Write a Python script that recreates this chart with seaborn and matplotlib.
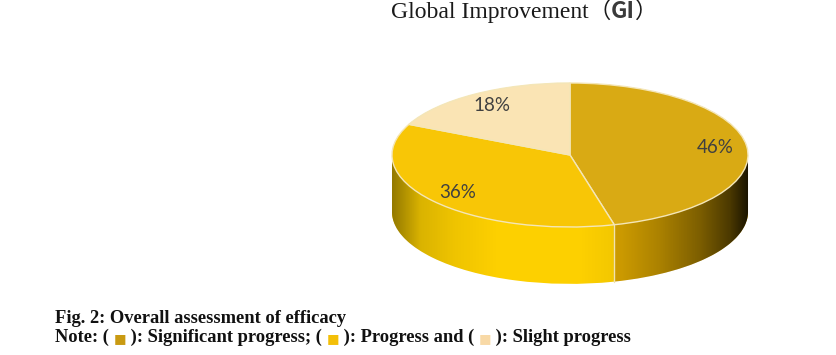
import numpy as np
import matplotlib
matplotlib.use("Agg")
import matplotlib.pyplot as plt
import seaborn as sns
from matplotlib.patches import Polygon

sns.set_theme(style="white")
plt.rcParams['font.family'] = ['Liberation Serif', 'DejaVu Sans']

# ---- data ----
labels = ["Significant progress", "Progress", "Slight progress"]
shares = [46, 36, 18]
top_colors = ["#D9AA14", "#F8C606", "#FAE4B4"]
side_colors = ["#D6A200", "#FDD000", "#E8CC90"]
key_colors = ["#C99A12", "#F3BF08", "#F8D9A6"]
title_main = "Global Improvement"
title_abbr = "GI"
caption = "Fig. 2: Overall assessment of efficacy"

W, H = 837, 355
fig = plt.figure(figsize=(W / 100, H / 100), dpi=100)
fig.patch.set_facecolor("white")

cx, cy, a, b = 570, 155, 178, 72   # pixel centre and semi-axes of the top face
D = 0.79                            # depth of the disc (in y data units)
xl = (-1.25, 1.25)
yl = (-2.0, 1.3)
ax = fig.add_axes([(cx + xl[0] * a) / W, (H - (cy - yl[0] * b)) / H,
                   (xl[1] - xl[0]) * a / W, (yl[1] - yl[0]) * b / H])

# side wall: stacked pies
for d in np.linspace(D, 0.0, 60):
    ax.pie(shares, colors=side_colors, startangle=90, counterclock=False,
           center=(0, -d), radius=1, frame=False,
           wedgeprops=dict(linewidth=0, zorder=1))

# shading of the side wall
xs = np.linspace(-1, 1, 600)
alpha = np.interp(xs, [-1, -0.93, -0.84, -0.65, -0.4, 0.05, 0.28, 0.3, 0.5, 0.73, 0.9, 1.0],
                  [0.42, 0.3, 0.14, 0.06, 0.0, 0.0, 0.05, 0.06, 0.2, 0.42, 0.65, 0.88])
img = np.zeros((1, xs.size, 4))
img[..., 3] = alpha
im = ax.imshow(img, extent=(-1, 1, -1 - D, 0), aspect="auto", zorder=2,
               interpolation="bilinear")
t = np.linspace(np.pi, 2 * np.pi, 200)
verts = np.concatenate([np.c_[np.cos(t), np.sin(t)],
                        np.c_[np.cos(t[::-1]), np.sin(t[::-1]) - D]])
clip = Polygon(verts, closed=True, transform=ax.transData)
im.set_clip_path(clip)

# seam on the side at the slice boundary
th = np.deg2rad(90 - 360 * shares[0] / sum(shares))
ax.plot([np.cos(th), np.cos(th)], [np.sin(th), np.sin(th) - D],
        color="#F0E2B0", lw=1, zorder=2.5)

# top face
ax.pie(shares, colors=top_colors, startangle=90, counterclock=False,
       autopct="%.0f%%", pctdistance=0.82, frame=False,
       wedgeprops=dict(edgecolor="#F4E6B8", linewidth=1.0, zorder=3),
       textprops=dict(family=["Lato", "DejaVu Sans"], fontsize=13.5,
                      color="#404040", zorder=5))

ax.set_aspect("auto")
ax.set_xlim(xl)
ax.set_ylim(yl)
ax.axis("off")

# ---- texts ----
renderer = fig.canvas.get_renderer()


def place(pieces, x0, y0):
    x = x0
    for s, kw in pieces:
        txt = fig.text(x / W, 1 - y0 / H, s, ha="left", va="baseline", **kw)
        x += txt.get_window_extent(renderer=renderer).width


cjk = ["Noto Sans CJK SC", "DejaVu Sans"]
place([(title_main, dict(fontsize=17, color="#1a1a1a")),
       ("（", dict(family=cjk, fontsize=16, color="#1a1a1a")),
       (title_abbr, dict(family=cjk, fontsize=16.5, weight="bold", color="#3a3a3a")),
       ("）", dict(family=cjk, fontsize=16, color="#1a1a1a"))], 391, 18)

bold = dict(fontsize=13.3, weight="bold", color="#111111")
sq = dict(family=["DejaVu Sans"], fontsize=9.5)
place([(caption, bold)], 55, 323)
place([("Note: ( ", bold), ("■", dict(sq, color=key_colors[0])),
       (" ): Significant progress; ( ", bold), ("■", dict(sq, color=key_colors[1])),
       (" ): Progress and ( ", bold), ("■", dict(sq, color=key_colors[2])),
       (" ): Slight progress", bold)], 55, 342)

fig.savefig("out.png", dpi=100, facecolor="white")
